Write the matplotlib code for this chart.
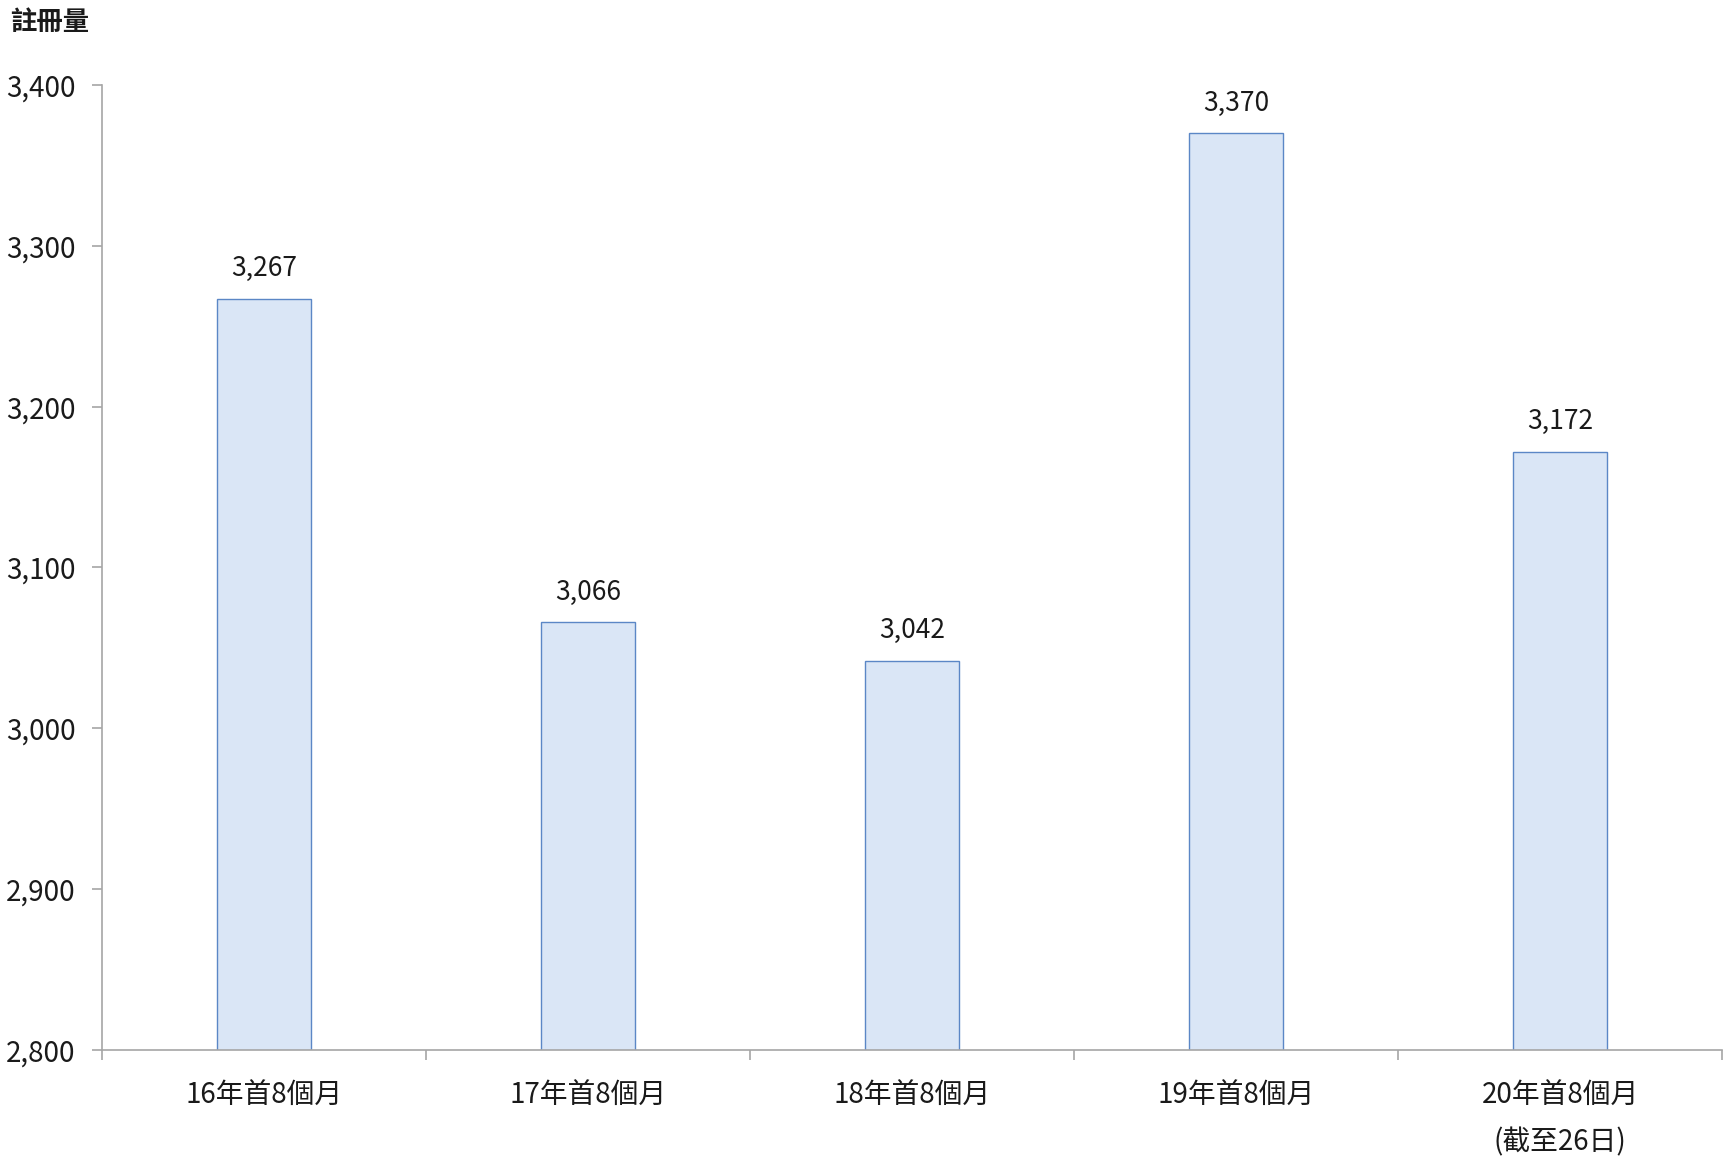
import matplotlib
matplotlib.use('Agg')
import matplotlib.pyplot as plt
import numpy as np

plt.rcParams['font.family'] = ['Noto Sans CJK TC', 'DejaVu Sans']

# data
categories = ['16年首8個月', '17年首8個月', '18年首8個月', '19年首8個月', '20年首8個月\n(截至26日)']
registrations = [3267, 3066, 3042, 3370, 3172]
y_ticks = [2800, 2900, 3000, 3100, 3200, 3300, 3400]

axis_gray = '#a6a6a6'
bar_fill = '#dae6f6'
bar_edge = '#5b87c6'

fig = plt.figure(figsize=(17.35, 11.69), dpi=100)
ax = fig.add_axes([0.0588, 0.1018, 0.9337, 0.8255])

x = np.arange(len(categories))
ax.bar(x, registrations, width=0.29, color=bar_fill, edgecolor=bar_edge, linewidth=1.0, zorder=2)

# value labels above bars
for xi, v in zip(x, registrations):
    ax.annotate(f'{v:,}', (xi, v), xytext=(0, 12), textcoords='offset points',
                ha='center', va='bottom', fontsize=19, color='#1a1a1a')

ax.set_xlim(-0.5, len(categories) - 0.5)
ax.set_ylim(2800, 3400)
ax.set_yticks(y_ticks)
ax.set_yticklabels([f'{t:,}' for t in y_ticks], fontsize=20, color='#1a1a1a')

# category labels centred, tick marks on the boundaries
ax.set_xticks(x)
ax.set_xticklabels(categories, fontsize=20, color='#1a1a1a', linespacing=1.75, va='top')
ax.set_xticks(np.arange(len(categories) + 1) - 0.5, minor=True)
ax.tick_params(axis='x', which='major', length=0, pad=22)
ax.tick_params(axis='x', which='minor', length=7, width=1.2, color=axis_gray, direction='out')
ax.tick_params(axis='y', length=7, width=1.2, color=axis_gray, direction='out', pad=12)

for side in ['top', 'right']:
    ax.spines[side].set_visible(False)
for side in ['left', 'bottom']:
    ax.spines[side].set_color(axis_gray)
    ax.spines[side].set_linewidth(1.2)

fig.text(0.006, 0.992, '註冊量', fontsize=19, fontweight='bold', ha='left', va='top', color='#1a1a1a')

fig.savefig('out.png', dpi=100, facecolor='white')
